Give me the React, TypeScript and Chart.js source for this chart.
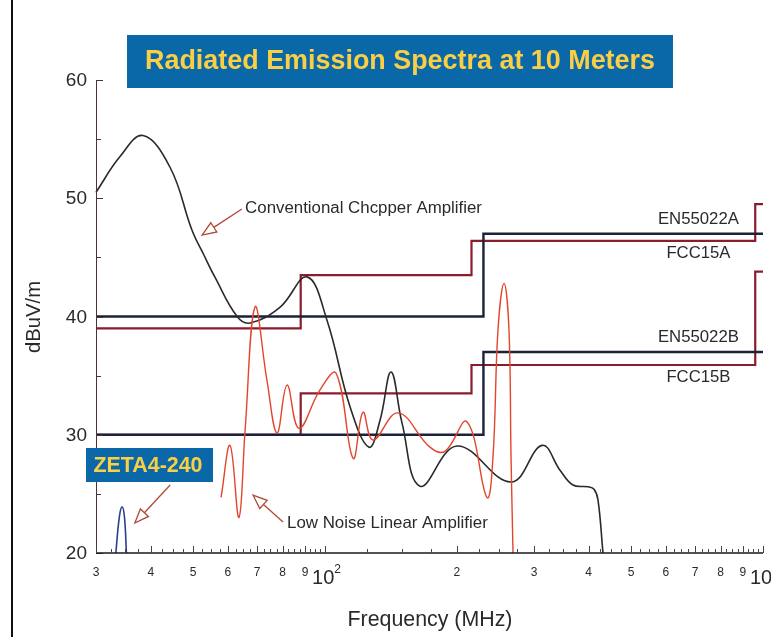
import React, { useEffect, useRef } from "react";
import { Chart, registerables } from "chart.js";

Chart.register(...registerables);

// ---- Data (frequency in MHz, level in dBuV/m) ----
const chopperFreq = [30, 34.0, 38.4, 44.3, 49.7, 52.9, 56.1, 63.0, 67.4, 79.0, 91.0, 101.0, 114.1, 126.0, 133.6, 141.5, 149.9, 164.8, 200.2, 265.9, 312.9, 344.0, 368.2, 398.5, 411.3, 420.0, 431.2];
const chopperLevel = [50.5, 53.5, 55.3, 52.6, 47.3, 45.2, 43.3, 40.0, 39.45, 40.8, 43.35, 39.7, 32.35, 28.95, 31.25, 35.3, 31.0, 25.65, 29.05, 26.0, 29.1, 27.0, 25.75, 25.6, 25.4, 24.5, 20];

const linearFreq = [57.9, 60.7, 63.6, 65.7, 69.2, 73.7, 77.7, 81.9, 87.2, 97.4, 106.0, 115.9, 122.1, 128.7, 146.8, 173.6, 187.9, 210.9, 234.3, 241.8, 248.3, 256.3, 263.0, 265.9, 268.7];
const linearLevel = [24.7, 29.1, 23.0, 30.4, 40.8, 34.6, 30.15, 34.2, 30.55, 33.8, 35.2, 28.0, 31.9, 29.55, 31.85, 28.95, 28.6, 31.1, 24.7, 28.1, 38.9, 42.8, 38.9, 28.1, 20];

const zetaFreq = [33.3, 33.9, 34.4, 34.85, 35.2];
const zetaLevel = [20, 23.0, 23.9, 23.0, 20];

const en55022AFreq = [30, 230, 230, 1000];
const en55022ALevel = [40, 40, 47, 47];
const fcc15AFreq = [30, 88, 88, 216, 216, 960, 960, 1000];
const fcc15ALevel = [39, 39, 43.5, 43.5, 46.4, 46.4, 49.5, 49.5];
const en55022BFreq = [30, 230, 230, 1000];
const en55022BLevel = [30, 30, 37, 37];
const fcc15BFreq = [30, 88, 88, 216, 216, 960, 960, 1000];
const fcc15BLevel = [30, 30, 33.5, 33.5, 35.9, 35.9, 43.8, 43.8];

const xMajorTicks = [30, 40, 50, 60, 70, 80, 90, 100, 200, 300, 400, 500, 600, 700, 800, 900, 1000];
const xTickLabels = ["3", "4", "5", "6", "7", "8", "9", "10^2", "2", "3", "4", "5", "6", "7", "8", "9", "10^3"];
const yTicks = [20, 30, 40, 50, 60];
const yMinorTicks = [25, 35, 45, 55];

const limitLabels = ["EN55022A", "FCC15A", "EN55022B", "FCC15B"];

const titleText = "Radiated Emission Spectra at 10 Meters";
const zetaText = "ZETA4-240";
const chopperText = "Conventional Chcpper Amplifier";
const linearText = "Low Noise Linear Amplifier";

// ---- annotation placement (data space) ----
const limitLabelPos = [
  { f: 712, v: 48.25 },
  { f: 712, v: 45.37 },
  { f: 712, v: 38.27 },
  { f: 712, v: 34.88 },
];
const arrows = [
  { tail: { f: 64.6, v: 49.09 }, tip: { f: 52.4, v: 46.89 } },
  { tail: { f: 80.2, v: 22.62 }, tip: { f: 68.5, v: 24.9 } },
  { tail: { f: 44.3, v: 25.75 }, tip: { f: 36.8, v: 22.54 } },
];

const FONT = '"Liberation Sans", Arial, Helvetica, sans-serif';

const pts = (xs: number[], ys: number[]) => xs.map((x, i) => ({ x, y: ys[i] }));

function fitText(ctx: CanvasRenderingContext2D, text: string, x: number, y: number, width: number, weight: string, align: CanvasTextAlign, color: string) {
  ctx.font = `${weight} 20px ${FONT}`;
  const w = ctx.measureText(text).width;
  const size = (20 * width) / w;
  ctx.font = `${weight} ${size}px ${FONT}`;
  ctx.textAlign = align;
  ctx.textBaseline = "middle";
  ctx.fillStyle = color;
  ctx.fillText(text, x, y);
}

function seg(ctx: CanvasRenderingContext2D, x1: number, y1: number, x2: number, y2: number) {
  ctx.beginPath();
  ctx.moveTo(x1, y1);
  ctx.lineTo(x2, y2);
  ctx.stroke();
}

const overlayPlugin = {
  id: "overlay",
  afterDatasetsDraw(chart: any) {
    const { ctx, chartArea: a, scales } = chart;
    const xs = scales.x;
    const ys = scales.y;
    ctx.save();

    // left frame line
    ctx.strokeStyle = "#111";
    ctx.lineWidth = 2;
    seg(ctx, 12, 0, 12, chart.height);

    // y axis
    ctx.strokeStyle = "#4a3434";
    ctx.lineWidth = 1;
    seg(ctx, a.left + 0.5, a.top, a.left + 0.5, a.bottom);
    yTicks.forEach((v) => {
      const py = Math.round(ys.getPixelForValue(v)) + 0.5;
      seg(ctx, a.left, py, a.left + 7, py);
    });
    yMinorTicks.forEach((v) => {
      const py = Math.round(ys.getPixelForValue(v)) + 0.5;
      seg(ctx, a.left, py, a.left + 5, py);
    });
    ctx.font = `19px ${FONT}`;
    ctx.textAlign = "right";
    ctx.textBaseline = "middle";
    ctx.fillStyle = "#2a2a2a";
    yTicks.forEach((v) => ctx.fillText(String(v), a.left - 9, ys.getPixelForValue(v) + 1));

    // x axis
    ctx.strokeStyle = "#1a1a1a";
    ctx.lineWidth = 1.6;
    seg(ctx, a.left, a.bottom, a.right, a.bottom);
    ctx.lineWidth = 1;
    ctx.strokeStyle = "#444";
    const minor: number[] = [];
    for (let f = 32.5; f < 100; f += 2.5) minor.push(f);
    for (let f = 125; f < 1000; f += 25) minor.push(f);
    minor.forEach((f) => {
      const px = Math.round(xs.getPixelForValue(f)) + 0.5;
      seg(ctx, px, a.bottom, px, a.bottom - 4);
    });
    xMajorTicks.forEach((f) => {
      const px = Math.round(xs.getPixelForValue(f)) + 0.5;
      seg(ctx, px, a.bottom, px, a.bottom - 7);
    });
    ctx.fillStyle = "#2a2a2a";
    ctx.textBaseline = "middle";
    xMajorTicks.forEach((f, i) => {
      const px = xs.getPixelForValue(f);
      const lab = xTickLabels[i];
      if (lab.includes("^")) {
        const [base, exp] = lab.split("^");
        ctx.font = `20px ${FONT}`;
        ctx.textAlign = "left";
        const bx = px - 13;
        ctx.fillText(base, bx, a.bottom + 25);
        const bw = ctx.measureText(base).width;
        ctx.font = `12px ${FONT}`;
        ctx.fillText(exp, bx + bw, a.bottom + 17);
      } else {
        ctx.font = `12px ${FONT}`;
        ctx.textAlign = "center";
        ctx.fillText(lab, px, a.bottom + 20);
      }
    });

    // axis titles
    fitText(ctx, "Frequency (MHz)", 430, 620, 165, "normal", "center", "#2a2a2a");
    ctx.save();
    ctx.translate(34, 317);
    ctx.rotate(-Math.PI / 2);
    fitText(ctx, "dBuV/m", 0, 0, 72, "normal", "center", "#2a2a2a");
    ctx.restore();

    // limit labels
    limitLabels.forEach((t, i) => {
      const p = limitLabelPos[i];
      const w = t.startsWith("EN") ? 81 : 64;
      fitText(ctx, t, xs.getPixelForValue(p.f), ys.getPixelForValue(p.v), w, "normal", "center", "#2a2a2a");
    });

    // curve labels
    fitText(ctx, chopperText, xs.getPixelForValue(65.7), ys.getPixelForValue(49.18), 237, "normal", "left", "#2a2a2a");
    fitText(ctx, linearText, xs.getPixelForValue(81.9), ys.getPixelForValue(22.54), 201, "normal", "left", "#2a2a2a");

    // arrows (hollow heads)
    ctx.strokeStyle = "#b04a38";
    ctx.lineWidth = 1.3;
    arrows.forEach((ar) => {
      const x1 = xs.getPixelForValue(ar.tail.f);
      const y1 = ys.getPixelForValue(ar.tail.v);
      const x2 = xs.getPixelForValue(ar.tip.f);
      const y2 = ys.getPixelForValue(ar.tip.v);
      const ang = Math.atan2(y2 - y1, x2 - x1);
      const hl = 14;
      const hw = 5.5;
      const bx = x2 - hl * Math.cos(ang);
      const by = y2 - hl * Math.sin(ang);
      seg(ctx, x1, y1, bx, by);
      const nx = -Math.sin(ang);
      const ny = Math.cos(ang);
      ctx.beginPath();
      ctx.moveTo(x2, y2);
      ctx.lineTo(bx + nx * hw, by + ny * hw);
      ctx.lineTo(bx - nx * hw, by - ny * hw);
      ctx.closePath();
      ctx.fillStyle = "#ffffff";
      ctx.fill();
      ctx.stroke();
    });

    // title box
    ctx.fillStyle = "#0b68a8";
    ctx.fillRect(127, 35, 546, 53);
    fitText(ctx, titleText, 400, 62, 510, "bold", "center", "#fbcf45");

    // ZETA box
    ctx.fillStyle = "#0b68a8";
    ctx.fillRect(86, 448, 127, 34);
    fitText(ctx, zetaText, 148, 466, 109, "bold", "center", "#fbcf45");

    ctx.restore();
  },
};

export default function App() {
  const ref = useRef<HTMLCanvasElement | null>(null);

  useEffect(() => {
    if (!ref.current) return;
    const common = { pointRadius: 0, showLine: true, fill: false, clip: false as any };
    const chart = new Chart(ref.current, {
      type: "scatter",
      data: {
        datasets: [
          { ...common, label: "FCC15A", data: pts(fcc15AFreq, fcc15ALevel), borderColor: "#8a1c2c", borderWidth: 2.2, tension: 0, order: 7 },
          { ...common, label: "FCC15B", data: pts(fcc15BFreq, fcc15BLevel), borderColor: "#8a1c2c", borderWidth: 2.2, tension: 0, order: 6 },
          { ...common, label: "EN55022A", data: pts(en55022AFreq, en55022ALevel), borderColor: "#1c2238", borderWidth: 2.4, tension: 0, order: 5 },
          { ...common, label: "EN55022B", data: pts(en55022BFreq, en55022BLevel), borderColor: "#1c2238", borderWidth: 2.4, tension: 0, order: 4 },
          { ...common, label: "Conventional Chopper Amplifier", data: pts(chopperFreq, chopperLevel), borderColor: "#2a2a2a", borderWidth: 1.6, tension: 0.4, order: 3 },
          { ...common, label: "Low Noise Linear Amplifier", data: pts(linearFreq, linearLevel), borderColor: "#e2452c", borderWidth: 1.4, tension: 0.4, order: 2 },
          { ...common, label: "ZETA4-240", data: pts(zetaFreq, zetaLevel), borderColor: "#2a3f8f", borderWidth: 1.6, tension: 0.4, order: 1 },
        ],
      },
      options: {
        animation: false,
        responsive: true,
        maintainAspectRatio: false,
        layout: { padding: { left: 96, right: 8, top: 80, bottom: 84 } },
        plugins: { legend: { display: false }, tooltip: { enabled: false }, title: { display: false } },
        scales: {
          x: { type: "logarithmic", min: 30, max: 1000, display: false },
          y: { type: "linear", min: 20, max: 60, display: false },
        },
        events: [],
      },
      plugins: [overlayPlugin],
    });
    return () => chart.destroy();
  }, []);

  return (
    <div style={{ position: "absolute", left: 0, top: 0, width: 771, height: 637, background: "#fff" }}>
      <canvas ref={ref} />
    </div>
  );
}
